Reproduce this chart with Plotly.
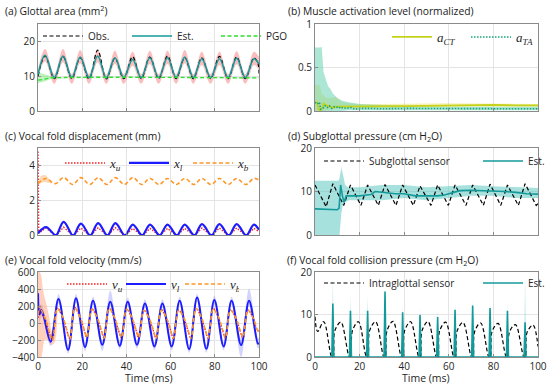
import plotly.graph_objects as go

# ---------------- data ----------------
# (a) glottal area
area_t = [0, 3.2, 7.4, 11.3, 15.3, 19.1, 23.1, 27.0, 30.9, 34.8, 38.8, 42.8, 46.7, 50.6,
          54.6, 58.6, 62.5, 66.4, 70.3, 74.1, 78.1, 82.1, 86.0, 89.9, 93.8, 97.7, 100]
area_est = [10.5, 16.0, 9.6, 15.8, 9.6, 15.5, 9.6, 15.8, 9.5, 15.3, 9.6, 14.8, 9.6, 15.3,
            9.6, 15.3, 9.6, 15.5, 9.6, 15.0, 9.6, 15.0, 9.6, 15.2, 9.6, 15.0, 13.5]
area_hi = [12.0, 17.8, 10.6, 17.8, 10.6, 17.5, 10.6, 17.6, 10.5, 17.3, 10.6, 17.0, 10.6, 17.3,
           10.6, 17.3, 10.6, 17.5, 10.6, 17.0, 10.6, 17.0, 10.6, 17.2, 10.6, 17.0, 15.5]
area_lo = [9.5, 14.2, 7.8, 14.0, 7.8, 13.7, 7.8, 14.0, 7.8, 13.5, 7.8, 13.0, 7.8, 13.5,
           7.8, 13.5, 7.8, 13.7, 7.8, 13.2, 7.8, 13.2, 7.8, 13.4, 7.8, 13.2, 11.8]
obs_t = [0, 3.2, 7.4, 11.3, 15.3, 19.1, 23.1, 27.0, 30.9, 34.8, 38.8, 42.8, 46.7, 50.6,
         54.6, 58.6, 62.5, 66.4, 70.3, 74.1, 78.1, 82.1, 86.0, 89.9, 93.8, 97.7, 99.6, 100]
area_obs = [10.0, 15.8, 9.3, 15.7, 9.3, 15.3, 9.2, 17.5, 9.2, 15.2, 9.3, 15.6, 9.3, 15.5,
            9.3, 15.8, 9.3, 15.3, 9.3, 15.3, 9.3, 15.7, 9.3, 15.5, 9.3, 15.3, 13.5, 10.0]
pgo_t = [0, 2, 4, 6, 100]
pgo_v = [8.9, 9.0, 9.3, 9.5, 9.5]
pgo_band_t = [0, 2, 4, 6, 8, 100]
pgo_hi = [11.2, 10.8, 10.4, 9.9, 9.7, 9.6]
pgo_lo = [8.0, 8.3, 8.8, 9.2, 9.35, 9.4]

# (b) muscle activation
ct_t = [0, 1.0, 1.5, 2.5, 3.2, 3.8, 4.5, 6, 8, 10, 12, 15, 20, 30, 40, 50, 60, 70, 80, 90, 100]
ct_v = [0.1, 0.1, 0.02, 0.01, 0.03, 0.09, 0.07, 0.06, 0.04, 0.05, 0.05, 0.05, 0.05, 0.05,
        0.055, 0.06, 0.065, 0.07, 0.07, 0.065, 0.065]
ta_t = [0, 1, 2, 2.5, 3.5, 4.5, 5.5, 6.5, 7.5, 8.5, 9.5, 10.5, 11.5, 12.5, 14, 16, 18, 20,
        25, 30, 40, 50, 60, 70, 80, 90, 100]
ta_v = [0.1, 0.08, 0.1, 0.02, 0.03, 0.06, 0.04, 0.06, 0.03, 0.05, 0.04, 0.05, 0.03, 0.04,
        0.03, 0.04, 0.02, 0.03, 0.03, 0.025, 0.03, 0.03, 0.025, 0.025, 0.025, 0.025, 0.025]
ta_band_t = [0, 2.5, 3, 3.8, 5, 6, 7, 8, 10, 12, 15, 20, 30, 50, 100]
ta_hi = [0.73, 0.73, 0.74, 0.45, 0.35, 0.28, 0.25, 0.2, 0.15, 0.12, 0.1, 0.08, 0.07, 0.05, 0.05]
ta_lo = [0, 0, 0, 0, 0, 0, 0, 0, 0, 0, 0.01, 0.01, 0.01, 0.01, 0.01]
ct_band_t = [0, 2, 3, 5, 7, 9, 10, 12, 15, 20, 30, 60, 100]
ct_hi = [0.3, 0.3, 0.2, 0.15, 0.15, 0.16, 0.15, 0.1, 0.09, 0.08, 0.08, 0.09, 0.08]
ct_lo = [0, 0, 0, 0.01, 0.02, 0.03, 0.03, 0.03, 0.035, 0.04, 0.04, 0.05, 0.05]

# (c) displacement
xl_t = [0, 3.6, 7.6, 8.4, 11.6, 15.5, 16.3, 19.4, 23.2, 24.0, 27.2, 31.0, 31.8, 35.0,
        38.9, 39.7, 42.9, 46.7, 47.5, 50.7, 54.6, 55.4, 58.6, 62.4, 63.2, 66.4, 70.3, 71.1,
        74.2, 78.1, 78.9, 82.1, 85.9, 86.7, 89.9, 93.8, 94.6, 97.7, 100]
xl_v = [0.1, 0.45, 0, 0, 0.75, 0, 0, 0.65, 0, 0, 0.68, 0, 0, 0.68, 0, 0, 0.6, 0, 0, 0.6,
        0, 0, 0.6, 0, 0, 0.6, 0, 0, 0.62, 0, 0, 0.62, 0, 0, 0.62, 0, 0, 0.6, 0.3]
xu_t = [0, 0.3, 3.6, 7.6, 8.4, 11.6, 15.5, 16.3, 19.4, 23.2, 24.0, 27.2, 31.0, 31.8, 35.0,
        38.9, 39.7, 42.9, 46.7, 47.5, 50.7, 54.6, 55.4, 58.6, 62.4, 63.2, 66.4, 70.3, 71.1,
        74.2, 78.1, 78.9, 82.1, 85.9, 86.7, 89.9, 93.8, 94.6, 97.7, 100]
xu_v = [4.8, 0.1, 0.4, 0, 0, 0.45, 0, 0, 0.4, 0, 0, 0.42, 0, 0, 0.42, 0, 0, 0.38, 0, 0, 0.38,
        0, 0, 0.38, 0, 0, 0.38, 0, 0, 0.4, 0, 0, 0.4, 0, 0, 0.4, 0, 0, 0.38, 0.2]
xb_t = [0, 3.6, 7.8, 11.6, 15.7, 19.4, 23.4, 27.2, 31.2, 35.0, 39.1, 42.9, 46.9, 50.7,
        54.8, 58.6, 62.6, 66.4, 70.5, 74.2, 78.3, 82.1, 86.1, 89.9, 94.0, 97.7, 100]
xb_v = [2.95, 3.25, 2.95, 3.3, 2.9, 3.3, 2.9, 3.3, 2.9, 3.3, 2.9, 3.3, 2.9, 3.25,
        2.9, 3.25, 2.9, 3.25, 2.9, 3.25, 2.9, 3.25, 2.9, 3.25, 2.9, 3.25, 3.15]
xb_band_t = [0, 1.5, 3, 4.5, 6]
xb_hi = [3.1, 3.4, 3.45, 3.3, 3.05]
xb_lo = [2.9, 3.0, 3.05, 3.0, 2.95]

# (d) subglottal pressure
sens_t = [0, 5.0, 8.0, 12.9, 15.9, 20.6, 23.6, 28.4, 31.4, 36.3, 39.3, 44.1, 47.1, 52.0,
          55.0, 59.8, 62.8, 67.7, 70.7, 75.5, 78.5, 83.3, 86.3, 91.2, 94.2, 99.2, 100]
sens_v = [11.5, 6.5, 11.8, 6.8, 11.5, 6.8, 11.5, 6.8, 11.6, 6.8, 11.5, 6.8, 11.3, 6.8,
          11.5, 6.8, 11.5, 6.8, 11.5, 6.8, 11.7, 6.8, 11.5, 6.8, 11.8, 6.8, 7.2]
ps_t = [0, 10, 10.8, 11.5, 12.3, 13, 14, 15, 17, 20, 23, 25, 27, 30, 33, 36, 40, 45, 50,
        55, 58, 62, 65, 70, 75, 80, 85, 90, 95, 100]
ps_v = [6, 5.8, 6.2, 11.5, 9, 7.5, 9, 9, 9, 9, 9.2, 9.3, 10, 9.8, 9.6, 9.5, 9.5, 9, 9, 9,
        9.2, 9.8, 10.2, 10.3, 10.2, 10.2, 10, 9.8, 9.5, 9.4]
ps_band_t = [0, 10.5, 11, 11.8, 12.5, 13.5, 15, 20, 30, 40, 50, 60, 70, 80, 90, 100]
ps_hi = [12.5, 12.5, 13, 15.5, 14, 11.5, 11, 11, 11.5, 11.5, 11, 11.3, 11.5, 11.2, 11, 10.8]
ps_lo = [0, 0, 0, 5, 7, 7.5, 8, 8, 8, 8.5, 8, 8.5, 9, 9, 8.5, 8.5]

# (e) velocity
vl_t = [0, 0.7, 1.5, 2.5, 5.7, 9.3, 13.6, 17.2, 21.3, 24.9, 29.1, 32.7, 37.0, 40.6, 44.8,
        48.4, 52.7, 56.3, 60.5, 64.1, 68.4, 72.0, 76.2, 79.8, 84.0, 87.6, 91.9, 95.5, 99.5, 100]
vl_v = [350, 100, 150, 90, -220, 283, -316, 290, -283, 263, -255, 250, -267, 250, -255,
        230, -275, 230, -275, 263, -308, 300, -304, 270, -275, 263, -260, 263, -243, -235]
vl_hi = [400, 200, 220, 160, -160, 340, -260, 340, -230, 310, -200, 380, -210, 300, -205,
         280, -225, 280, -225, 310, -260, 340, -255, 320, -225, 310, -180, 400, -180, -180]
vl_lo = [300, 0, 80, 20, -270, 230, -360, 240, -330, 215, -330, 200, -310, 200, -300,
         180, -320, 180, -320, 215, -350, 250, -350, 220, -320, 215, -400, 200, -300, -290]
vb_t = [0, 1, 2, 3.5, 5.0,
        6.5, 8.8, 11.3, 13.0, 14.4, 16.7, 19.2, 20.9, 22.1, 24.4, 26.9, 28.6,
        29.9, 32.2, 34.7, 36.4, 37.8, 40.1, 42.6, 44.3, 45.6, 47.9, 50.4, 52.1,
        53.5, 55.8, 58.3, 60.0, 61.3, 63.6, 66.1, 67.8, 69.2, 71.5, 74.0, 75.7,
        77.0, 79.3, 81.8, 83.5, 84.8, 87.1, 89.6, 91.3, 92.7, 95.0, 97.5, 99.2, 100]
vb_v = [100, 200, 120, 40, -100,
        -200, 170, 60, -80, -190, 175, 60, -80, -170, 160, 55, -80,
        -180, 170, 60, -80, -170, 160, 55, -75, -170, 150, 50, -80,
        -180, 150, 50, -80, -180, 150, 55, -80, -180, 170, 60, -80,
        -180, 165, 60, -80, -175, 150, 55, -75, -170, 150, 50, -80, -100]
vu_v = [60, 180, 100, 30, -110,
        -190, 175, 55, -85, -185, 180, 55, -85, -175, 165, 50, -85,
        -175, 175, 55, -85, -175, 165, 50, -80, -175, 155, 45, -85,
        -185, 155, 45, -85, -185, 155, 50, -85, -185, 175, 55, -85,
        -185, 170, 55, -85, -180, 155, 50, -80, -175, 155, 45, -85, -95]
ve_band_t = [0, 0.8, 1.5, 2.2, 3, 4, 5, 6.3, 7.5, 8.8]
ve_hi = [600, 600, 550, 400, 300, 200, 80, -100, 50, 200]
ve_lo = [-400, -400, -400, -300, -200, -200, -220, -260, -230, 120]

# (f) collision pressure
ig_t = [0, 1.2, 3.9, 7.5,
        8.1, 8.9, 11.6, 15.4, 16.0, 16.8, 19.5, 23.1, 23.7, 24.5, 27.2, 30.9,
        31.5, 32.3, 35.0, 38.8, 39.4, 40.2, 42.9, 46.6, 47.2, 48.0, 50.7, 54.5,
        55.1, 55.9, 58.6, 62.3, 62.9, 63.7, 66.4, 70.2, 70.8, 71.6, 74.3, 78.0,
        78.6, 79.4, 82.1, 85.8, 86.4, 87.2, 89.9, 93.7, 94.3, 95.1, 97.8, 100]
ig_v = [9.5, 6.0, 8.3, 0,
        0, 6.2, 8.2, 0, 0, 6.2, 8.3, 0, 0, 6.2, 8.3, 0,
        0, 6.2, 8.4, 0, 0, 6.2, 8.3, 0, 0, 6.2, 8.3, 0,
        0, 6.2, 8.2, 0, 0, 6.1, 8.1, 0, 0, 6.0, 8.0, 0,
        0, 6.0, 7.9, 0, 0, 5.9, 7.6, 0, 0, 5.8, 7.5, 2.5]
cp_t = [0, 7.55, 8.0, 8.45, 15.45, 15.9, 16.35, 23.15, 23.6, 24.05, 30.95, 31.4, 31.85,
        38.85, 39.3, 39.75, 46.65, 47.1, 47.55, 54.55, 55.0, 55.45, 62.35, 62.8, 63.25,
        70.25, 70.7, 71.15, 78.05, 78.5, 78.95, 85.85, 86.3, 86.75, 93.75, 94.2, 94.65, 100]
cp_v = [0, 0, 12.6, 0, 0, 10.9, 0, 0, 10.9, 0, 0, 15.4, 0, 0, 10.5, 0, 0, 9.9, 0, 0, 9.4, 0,
        0, 11.1, 0, 0, 12.1, 0, 0, 11.5, 0, 0, 10.9, 0, 0, 8.2, 0, 0]
cp_hi = [0, 0, 18.8, 0, 0, 14.6, 0, 0, 14.8, 0, 0, 16.5, 0, 0, 12.5, 0, 0, 11.7, 0, 0, 11.3, 0,
         0, 12.6, 0, 0, 13.6, 0, 0, 13.4, 0, 0, 12.8, 0, 0, 18.8, 0, 0]

# ---------------- figure ----------------
TEAL = '#139a9a'
DASH = '4px,2.5px'
DOT = '1.5px,1.5px'
fig = go.Figure()


def ax(i):
    return ('x' if i == 1 else f'x{i}'), ('y' if i == 1 else f'y{i}')


def band(i, t, lo, hi, color, shape='linear'):
    xa, ya = ax(i)
    fig.add_trace(go.Scatter(x=t, y=lo, mode='lines', line=dict(width=0, shape=shape),
                             showlegend=False, hoverinfo='skip', xaxis=xa, yaxis=ya))
    fig.add_trace(go.Scatter(x=t, y=hi, mode='lines', line=dict(width=0, shape=shape),
                             fill='tonexty', fillcolor=color, showlegend=False,
                             hoverinfo='skip', xaxis=xa, yaxis=ya))


def line(i, t, v, name, color, width=1.5, dash='solid', shape='linear', legend='legend'):
    xa, ya = ax(i)
    fig.add_trace(go.Scatter(x=t, y=v, mode='lines', name=name,
                             line=dict(color=color, width=width, dash=dash, shape=shape),
                             showlegend=True, legend=legend, xaxis=xa, yaxis=ya))


# (a)
band(1, area_t, area_lo, area_hi, 'rgba(245,110,110,0.45)', 'spline')
band(1, pgo_band_t, pgo_lo, pgo_hi, 'rgba(70,220,70,0.35)', 'spline')
line(1, obs_t, area_obs, 'Obs.', 'black', 1.2, DASH, 'spline', 'legend')
line(1, area_t, area_est, 'Est.', TEAL, 1.6, 'solid', 'spline', 'legend')
line(1, pgo_t, pgo_v, 'PGO', '#2fe02f', 1.3, DASH, 'spline', 'legend')

# (b)
band(2, ct_band_t, ct_lo, ct_hi, 'rgba(240,225,110,0.5)')
band(2, ta_band_t, ta_lo, ta_hi, 'rgba(90,205,170,0.5)')
line(2, ct_t, ct_v, '<i>a</i><sub><i>CT</i></sub>', '#c4d21c', 1.8, 'solid', 'linear', 'legend2')
line(2, ta_t, ta_v, '<i>a</i><sub><i>TA</i></sub>', '#14a878', 1.6, DOT, 'linear', 'legend2')

# (c)
band(3, xb_band_t, xb_lo, xb_hi, 'rgba(255,170,90,0.45)', 'spline')
line(3, xu_t, xu_v, '<i>x</i><sub><i>u</i></sub>', '#ff2020', 1.4, DOT, 'linear', 'legend3')
line(3, xl_t, xl_v, '<i>x</i><sub><i>l</i></sub>', '#1c1cff', 2.2, 'solid', 'spline', 'legend3')
line(3, xb_t, xb_v, '<i>x</i><sub><i>b</i></sub>', '#ff9628', 1.6, DASH, 'spline', 'legend3')

# (d)
band(4, ps_band_t, ps_lo, ps_hi, 'rgba(80,195,190,0.5)')
line(4, sens_t, sens_v, 'Subglottal sensor', 'black', 1.2, DASH, 'linear', 'legend4')
line(4, ps_t, ps_v, 'Est.', TEAL, 1.6, 'solid', 'linear', 'legend4')

# (e)
band(5, vl_t, vl_lo, vl_hi, 'rgba(110,110,255,0.3)', 'spline')
band(5, ve_band_t, ve_lo, ve_hi, 'rgba(255,140,90,0.4)', 'spline')
line(5, vb_t, vu_v, '<i>v</i><sub><i>u</i></sub>', '#ff2020', 1.4, DOT, 'spline', 'legend5')
line(5, vl_t, vl_v, '<i>v</i><sub><i>l</i></sub>', '#1c1cff', 2.0, 'solid', 'spline', 'legend5')
line(5, vb_t, vb_v, '<i>v</i><sub><i>b</i></sub>', '#ff9628', 1.6, DASH, 'spline', 'legend5')

# (f)
xa6, ya6 = ax(6)
fig.add_trace(go.Scatter(x=cp_t, y=cp_hi, mode='lines', line=dict(width=0), fill='tozeroy',
                         fillcolor='rgba(90,200,200,0.45)', showlegend=False, xaxis=xa6, yaxis=ya6))
fig.add_trace(go.Scatter(x=cp_t, y=cp_v, mode='lines', line=dict(width=0), fill='tozeroy',
                         fillcolor=TEAL, showlegend=False, xaxis=xa6, yaxis=ya6))
line(6, ig_t, ig_v, 'Intraglottal sensor', 'black', 1.2, DASH, 'spline', 'legend6')
line(6, cp_t, cp_v, 'Est.', TEAL, 1.6, 'solid', 'linear', 'legend6')

# ---------------- layout ----------------
W, H = 550, 387
LX = [38 / W, 259 / W]
RX = [315 / W, 538 / W]
ROWS = [[1 - 111 / H, 1 - 24 / H], [1 - 235 / H, 1 - 148 / H], [1 - 357 / H, 1 - 272 / H]]
FONT = 'Open Sans'
tickfont = dict(family=FONT, size=10, color='#262626')

yspec = {
    1: dict(range=[0, 25], tickvals=[0, 10, 20]),
    2: dict(range=[0, 1], tickvals=[0, 0.5, 1], ticktext=['0', '0.5', '1']),
    3: dict(range=[0, 5], tickvals=[0, 2, 4]),
    4: dict(range=[0, 20], tickvals=[0, 10, 20]),
    5: dict(range=[-400, 600], tickvals=[-400, -200, 0, 200, 400, 600]),
    6: dict(range=[0, 20], tickvals=[0, 10, 20]),
}
layout = dict(width=W, height=H, margin=dict(l=0, r=0, t=0, b=0, autoexpand=False),
              paper_bgcolor='white', plot_bgcolor='white',
              font=dict(family=FONT, size=10, color='#262626'))
for i in range(1, 7):
    row = (i - 1) // 2
    col = (i - 1) % 2
    xk = 'xaxis' if i == 1 else f'xaxis{i}'
    yk = 'yaxis' if i == 1 else f'yaxis{i}'
    xa, ya = ax(i)
    layout[xk] = dict(domain=LX if col == 0 else RX, anchor=ya, range=[0, 100],
                      tickvals=[0, 20, 40, 60, 80, 100], showticklabels=row == 2,
                      showgrid=True, gridcolor='#e4e4e4', gridwidth=1, zeroline=False,
                      showline=True, linecolor='#8a8a8a', linewidth=1, mirror=True,
                      ticks='inside', ticklen=3, tickcolor='#8a8a8a', tickfont=tickfont,
                      automargin=False)
    layout[yk] = dict(domain=ROWS[row], anchor=xa, showgrid=True, gridcolor='#e4e4e4',
                      zeroline=False, showline=True, linecolor='#8a8a8a', linewidth=1,
                      mirror=True, ticks='inside', ticklen=3, tickcolor='#8a8a8a',
                      tickfont=tickfont, automargin=False, **yspec[i])

leg_common = dict(orientation='h', bgcolor='rgba(0,0,0,0)', borderwidth=0,
                  xanchor='left', yanchor='middle', entrywidthmode='pixels',
                  traceorder='normal', tracegroupgap=0, itemclick=False, itemwidth=40)
sans_leg = dict(family=FONT, size=10, color='#262626')
math_leg = dict(family='Liberation Serif', size=13, color='#262626')
layout['legend'] = dict(leg_common, x=38 / W, y=1 - 36 / H, entrywidth=34, font=sans_leg)
layout['legend2'] = dict(leg_common, x=387 / W, y=1 - 37 / H, entrywidth=24, font=math_leg)
layout['legend3'] = dict(leg_common, x=60 / W, y=1 - 163 / H, entrywidth=9, font=math_leg)
layout['legend4'] = dict(leg_common, x=319 / W, y=1 - 161 / H, entrywidth=104, font=sans_leg)
layout['legend5'] = dict(leg_common, x=62 / W, y=1 - 284 / H, entrywidth=4, font=math_leg)
layout['legend6'] = dict(leg_common, x=319 / W, y=1 - 283 / H, entrywidth=104, font=sans_leg)

titles = [
    ('(a) Glottal area (mm<sup>2</sup>)', 3, 11),
    ('(b) Muscle activation level (normalized)', 286, 11),
    ('(c) Vocal fold displacement (mm)', 3, 136),
    ('(d) Subglottal pressure (cm H<sub>2</sub>O)', 286, 136),
    ('(e) Vocal fold velocity (mm/s)', 3, 260),
    ('(f) Vocal fold collision pressure (cm H<sub>2</sub>O)', 285, 260),
]
anns = []
for text, px, py in titles:
    anns.append(dict(text=text, x=px / W, y=1 - py / H, xref='paper', yref='paper',
                     xanchor='left', yanchor='middle', showarrow=False,
                     font=dict(family=FONT, size=10.3, color='#1a1a1a')))
for cx in (LX, RX):
    anns.append(dict(text='Time (ms)', x=(cx[0] + cx[1]) / 2, y=1 - 378 / H, xref='paper',
                     yref='paper', xanchor='center', yanchor='middle', showarrow=False,
                     font=dict(family=FONT, size=10.5, color='#262626')))
layout['annotations'] = anns

fig.update_layout(**layout)
fig.write_html('out.html', config={'displayModeBar': False},
               post_script="document.body.style.margin='0px';document.body.style.overflow='hidden';")
